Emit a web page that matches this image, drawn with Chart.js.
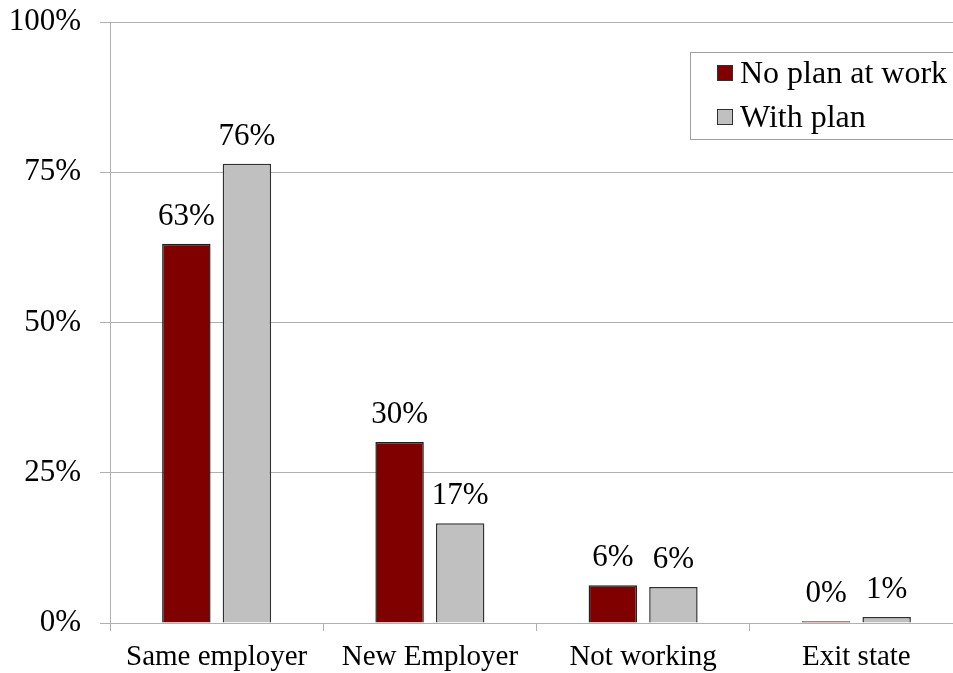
<!DOCTYPE html>
<html>
<head>
<meta charset="utf-8">
<script src="https://cdn.jsdelivr.net/npm/chart.js@4"></script>
<style>
  html, body { margin: 0; padding: 0; background: #fff; overflow: hidden; }
  #wrap { width: 963px; height: 673px; }
</style>
</head>
<body>
<div id="wrap"><canvas id="chart"></canvas></div>
<script>
const categories = ['Same employer', 'New Employer', 'Not working', 'Exit state'];
const noPlan = [63.1, 30.1, 6.3, 0.3];
const withPlan = [76.4, 16.6, 6.0, 1.0];
const yTicks = [0, 25, 50, 75, 100];

const FONT = '"Liberation Serif", "Times New Roman", serif';
const GRID = '#b0b0b0';

// value labels above each bar
const barLabels = {
  id: 'barLabels',
  afterDatasetsDraw(chart) {
    const ctx = chart.ctx;
    ctx.save();
    ctx.font = '31px ' + FONT;
    ctx.fillStyle = '#000';
    ctx.textAlign = 'center';
    ctx.textBaseline = 'alphabetic';
    chart.data.datasets.forEach((ds, i) => {
      chart.getDatasetMeta(i).data.forEach((bar, j) => {
        ctx.fillText(Math.round(ds.data[j]) + '%', bar.x, bar.y - 19);
      });
    });
    ctx.restore();
  }
};

// boxed legend in the top right corner
const boxLegend = {
  id: 'boxLegend',
  afterDraw(chart) {
    const ctx = chart.ctx;
    const x0 = 690, y0 = 52, h = 87;
    ctx.save();
    ctx.strokeStyle = '#a0a0a0';
    ctx.lineWidth = 1;
    ctx.strokeRect(x0 + 0.5, y0 + 0.5, 300, h);
    ctx.font = '32px ' + FONT;
    ctx.textBaseline = 'alphabetic';
    chart.data.datasets.forEach((ds, i) => {
      const yy = y0 + 31 + i * 44;
      ctx.fillStyle = ds.backgroundColor;
      ctx.fillRect(717, yy - 18, 16, 16);
      ctx.strokeStyle = '#303030';
      ctx.strokeRect(717.5, yy - 17.5, 15, 15);
      ctx.fillStyle = '#000';
      ctx.fillText(ds.label, 740, yy);
    });
    ctx.restore();
  }
};

new Chart(document.getElementById('chart'), {
  type: 'bar',
  data: {
    labels: categories,
    datasets: [
      {
        label: 'No plan at work',
        data: noPlan,
        backgroundColor: '#800000',
        borderColor: '#202020',
        borderWidth: 1.5
      },
      {
        label: 'With plan',
        data: withPlan,
        backgroundColor: '#c0c0c0',
        borderColor: '#303030',
        borderWidth: 1.5
      }
    ]
  },
  options: {
    responsive: true,
    maintainAspectRatio: false,
    animation: false,
    layout: { padding: { top: 22, right: 0, bottom: 0, left: 0 } },
    datasets: {
      bar: { categoryPercentage: 0.568, barPercentage: 0.8 }
    },
    scales: {
      x: {
        grid: {
          offset: true,
          drawOnChartArea: false,
          drawTicks: true,
          tickLength: 8,
          color: GRID
        },
        border: { color: GRID },
        ticks: {
          color: '#000',
          padding: 9,
          font: { family: FONT, size: 29 }
        },
        afterFit(scale) {
          scale.height = 50;
          scale.paddingLeft = 0;
          scale.paddingRight = 0;
        }
      },
      y: {
        min: 0,
        max: 100,
        afterBuildTicks(scale) {
          scale.ticks = yTicks.map(v => ({ value: v }));
        },
        grid: { color: GRID, tickLength: 10 },
        border: { color: GRID },
        ticks: {
          color: '#000',
          padding: 19,
          font: { family: FONT, size: 31 },
          callback: (v) => v + '%'
        },
        afterFit(scale) {
          scale.width = 110;
          scale.paddingTop = 0;
          scale.paddingBottom = 0;
        }
      }
    },
    plugins: {
      legend: { display: false },
      tooltip: { enabled: false }
    }
  },
  plugins: [barLabels, boxLegend]
});
</script>
</body>
</html>
